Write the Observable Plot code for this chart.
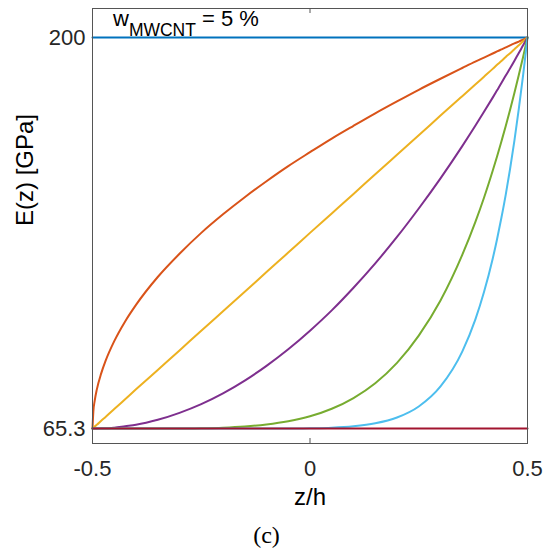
<!DOCTYPE html>
<html>
<head>
<meta charset="utf-8">
<script src="https://cdn.jsdelivr.net/npm/d3@7"></script>
<script src="https://cdn.jsdelivr.net/npm/@observablehq/plot@0.6"></script>
<style>
  body { margin: 0; background: #fff; }
  #chart svg { display: block; }
</style>
</head>
<body>
<div id="chart"></div>
<script>
// ---- data ----
const zGrid = [-0.5, -0.498, -0.495, -0.49, -0.48, -0.47, -0.45, -0.425, -0.4, -0.35, -0.3, -0.25, -0.2, -0.15, -0.1, -0.05, 0, 0.05, 0.1, 0.15, 0.2, 0.25, 0.3, 0.35, 0.38, 0.4, 0.42, 0.43, 0.44, 0.45, 0.46, 0.47, 0.48, 0.49, 0.5];
const zEnds = [-0.5, 0.5];

const E_p0   = [200, 200];
const E_p05  = [65.3, 71.3, 74.8, 78.8, 84.3, 88.6, 95.4, 102.2, 107.9, 117.5, 125.5, 132.7, 139.1, 145.0, 150.5, 155.7, 160.5, 165.2, 169.6, 173.9, 178.0, 182.0, 185.8, 189.5, 191.7, 193.1, 194.5, 195.2, 195.9, 196.6, 197.3, 198.0, 198.6, 199.3, 200];
const E_p1   = [65.3, 65.6, 66.0, 66.6, 68.0, 69.3, 72.0, 75.4, 78.8, 85.5, 92.2, 99.0, 105.7, 112.4, 119.2, 125.9, 132.7, 139.4, 146.1, 152.9, 159.6, 166.3, 173.1, 179.8, 183.8, 186.5, 189.2, 190.6, 191.9, 193.3, 194.6, 196.0, 197.3, 198.7, 200];
const E_p2   = [65.3, 65.3, 65.3, 65.3, 65.4, 65.4, 65.6, 66.1, 66.6, 68.3, 70.7, 73.7, 77.4, 81.8, 86.9, 92.6, 99.0, 106.0, 113.8, 122.2, 131.3, 141.1, 151.5, 162.6, 169.6, 174.4, 179.3, 181.8, 184.3, 186.9, 189.4, 192.0, 194.7, 197.3, 200];
const E_p5   = [65.3, 65.3, 65.3, 65.3, 65.3, 65.3, 65.3, 65.3, 65.3, 65.3, 65.3, 65.4, 65.6, 66.0, 66.7, 67.8, 69.5, 72.1, 75.8, 80.9, 87.9, 97.3, 109.4, 125.1, 136.4, 144.8, 154.1, 159.0, 164.2, 169.5, 175.1, 181.0, 187.1, 193.4, 200];
const E_p10  = [65.3, 65.3, 65.3, 65.3, 65.3, 65.3, 65.3, 65.3, 65.3, 65.3, 65.3, 65.3, 65.3, 65.3, 65.3, 65.3, 65.4, 65.6, 66.1, 67.1, 69.1, 72.9, 79.8, 91.8, 102.8, 112.3, 123.8, 130.5, 137.9, 145.9, 154.8, 164.6, 175.4, 187.1, 200];
const E_pinf = [65.3, 65.3];

const seriesNames  = ["p0", "p05", "p1", "p2", "p5", "p10", "pinf"];
const seriesColors = ["#0072BD", "#D95319", "#EDB120", "#7E2F8E", "#77AC30", "#4DBEEE", "#A2142F"];

const xTicks = [-0.5, 0, 0.5];
const xTickLabels = ["-0.5", "0", "0.5"];
const yTicks = [65.3, 200];
const yTickLabels = ["65.3", "200"];

const xDomain = [-0.5, 0.5];
const yDomain = [60.14, 210];

// ---- build table ----
const seriesData = [
  [zEnds, E_p0], [zGrid, E_p05], [zGrid, E_p1], [zGrid, E_p2],
  [zGrid, E_p5], [zGrid, E_p10], [zEnds, E_pinf]
];
const tables = seriesData.map(([zs, es], k) => zs.map((z, i) => ({z, E: es[i], s: seriesNames[k]})));

const axisColor = "#555";
const textColor = "#262626";

const lineMarks = tables.map((t, k) =>
  Plot.line(t, {x: "z", y: "E", stroke: seriesColors[k], strokeWidth: 2, curve: "monotone-x"})
);

const chart = Plot.plot({
  width: 548,
  height: 551,
  marginLeft: 92,
  marginRight: 21,
  marginTop: 8,
  marginBottom: 108,
  x: {domain: xDomain},
  y: {domain: yDomain},
  style: {fontFamily: "'Liberation Sans', Arial, sans-serif", fontSize: "22px", color: textColor, background: "white", overflow: "visible"},
  marks: [
    ...lineMarks,
    Plot.frame({stroke: axisColor, strokeWidth: 1}),
    Plot.ruleX(xTicks, {x: d => d, y1: yDomain[0], y2: yDomain[0], insetTop: -5, stroke: axisColor}),
    Plot.ruleX(xTicks, {x: d => d, y1: yDomain[1], y2: yDomain[1], insetBottom: -5, stroke: axisColor}),
    Plot.axisX({ticks: xTicks, tickFormat: d => xTickLabels[xTicks.indexOf(d)], tickSize: 0, tickPadding: 17, label: null, fontSize: 22, fill: textColor}),
    Plot.axisY({ticks: yTicks, tickFormat: d => yTickLabels[yTicks.indexOf(d)], tickSize: 0, tickPadding: 7, label: null, fontSize: 22, fill: textColor}),
    Plot.text(["z/h"], {frameAnchor: "bottom", dy: 54, fontSize: 24, lineAnchor: "middle", fill: "#000"}),
    Plot.text(["E(z) [GPa]"], {frameAnchor: "left", dx: -67, rotate: -90, fontSize: 24, lineAnchor: "middle", fill: "#000"}),
    Plot.text(["(c)"], {frameAnchor: "bottom", dx: -43.5, dy: 92, fontSize: 24, lineAnchor: "middle", fill: "#000", fontFamily: "'Liberation Serif', 'Times New Roman', serif"})
  ]
});

document.getElementById("chart").appendChild(chart);

// annotation with subscript
const annX = -0.4517, annY = 203.8;
const svg = chart.tagName.toLowerCase() === "svg" ? d3.select(chart) : d3.select(chart).select("svg");
const t = svg.append("text")
  .attr("x", chart.scale("x").apply(annX))
  .attr("y", chart.scale("y").apply(annY))
  .attr("text-anchor", "start")
  .attr("fill", "#000")
  .style("font-family", "'Liberation Sans', Arial, sans-serif")
  .style("font-size", "22px");
t.append("tspan").text("w");
t.append("tspan").attr("dy", 10).style("font-size", "17.5px").text("MWCNT");
t.append("tspan").attr("dy", -10).text(" = 5 %");
</script>
</body>
</html>
